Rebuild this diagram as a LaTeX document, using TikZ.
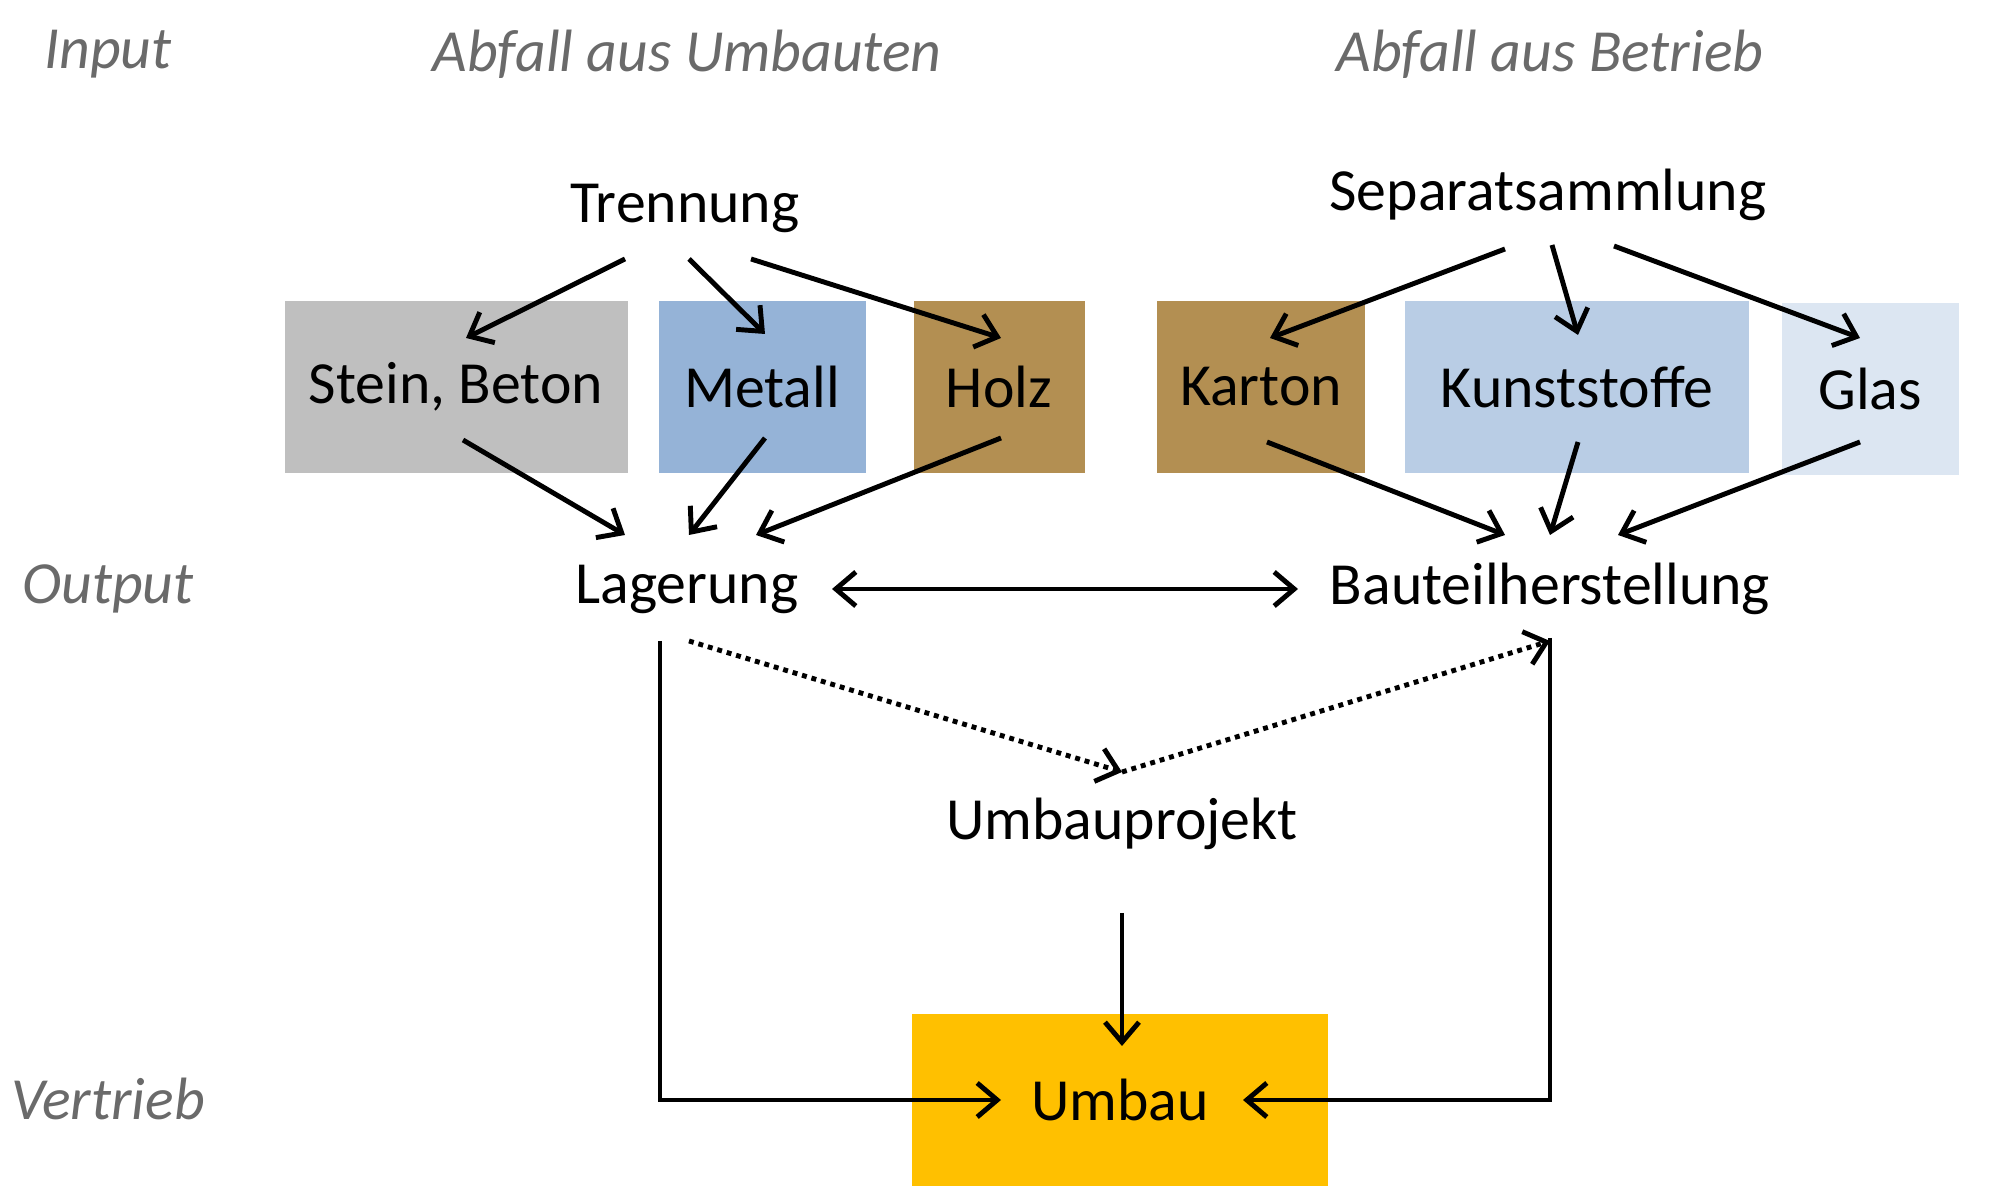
\documentclass[tikz,border=0pt]{standalone}
\usepackage{fontspec}
\setmainfont{Carlito}
\usetikzlibrary{arrows.meta}

% box colours
\definecolor{steingray}{HTML}{BFBFBF}
\definecolor{metallblue}{HTML}{95B3D7}
\definecolor{holzbrown}{HTML}{B38F52}
\definecolor{kunststoffblue}{HTML}{B9CDE5}
\definecolor{glasblue}{HTML}{DCE6F2}
\definecolor{umbaugold}{HTML}{FFC000}
\definecolor{levelgray}{HTML}{6A6A6A}

\tikzset{
  txt/.style={font=\fontsize{17}{20}\selectfont},
  level/.style={font=\fontsize{17}{20}\selectfont\itshape, text=levelgray},
  matbox/.style={txt, minimum height=1.72cm, inner sep=0pt},
  barb/.tip={Straight Barb[length=2mm,width=3.4mm]},
  arr/.style={-barb, line width=1.4pt},
  dblarr/.style={barb-barb, line width=1.4pt},
  dotarr/.style={arr, dash pattern=on 1.4pt off 1.4pt},
}

\begin{document}
\begin{tikzpicture}
\useasboundingbox (0,0) rectangle (20,11.92);

% level labels on the left and column headers
\node[level] (input) at (1.08, 11.38) {Input};
\node[level] (umbauten) at (6.87, 11.38) {Abfall aus Umbauten};
\node[level] (betrieb) at (15.50, 11.38) {Abfall aus Betrieb};
\node[level] (output) at (1.08, 6.03) {Output};
\node[level] (vertrieb) at (1.08, 0.93) {Vertrieb};

% collection
\node[txt] (trennung) at (6.85, 9.84) {Trennung};
\node[txt] (separat) at (15.48, 9.97) {Separatsammlung};

% material boxes
\node[matbox, fill=steingray, minimum width=3.43cm] (stein) at (4.56, 8.05) {Stein, Beton};
\node[matbox, fill=metallblue, minimum width=2.07cm] (metall) at (7.62, 8.05) {Metall};
\node[matbox, fill=holzbrown, minimum width=1.71cm] (holz) at (9.99, 8.05) {Holz};
\node[matbox, fill=holzbrown, minimum width=2.08cm] (karton) at (12.61, 8.05) {Karton};
\node[matbox, fill=kunststoffblue, minimum width=3.44cm] (kunst) at (15.77, 8.05) {Kunststoffe};
\node[matbox, fill=glasblue, minimum width=1.77cm] (glas) at (18.70, 8.03) {Glas};

% output and projects
\node[txt] (lager) at (6.87, 6.03) {Lagerung};
\node[txt] (bauteil) at (15.50, 6.03) {Bauteilherstellung};
\node[txt] (projekt) at (11.22, 3.68) {Umbauprojekt};
\node[matbox, fill=umbaugold, minimum width=4.16cm] (umbau) at (11.20, 0.92) {Umbau};
\coordinate (apex) at ([yshift=0.52cm]projekt.center);

% Trennung to materials
\draw[arr] ([shift={(-0.60,-0.51)}]trennung.center) -- ([shift={(0.10,0.49)}]stein.center);
\draw[arr] ([shift={(0.04,-0.51)}]trennung.center) -- ([shift={(0.03,0.53)}]metall.center);
\draw[arr] ([shift={(0.66,-0.51)}]trennung.center) -- ([shift={(0.02,0.49)}]holz.center);

% Separatsammlung to materials
\draw[arr] ([shift={(-0.43,-0.54)}]separat.center) -- ([shift={(0.09,0.49)}]karton.center);
\draw[arr] ([shift={(0.04,-0.50)}]separat.center) -- ([shift={(0.01,0.52)}]kunst.center);
\draw[arr] ([shift={(0.66,-0.51)}]separat.center) -- ([shift={(-0.10,0.51)}]glas.center);

% materials to Lagerung
\draw[arr] ([shift={(0.07,-0.53)}]stein.center) -- ([shift={(-0.62,0.54)}]lager.center);
\draw[arr] ([shift={(0.03,-0.51)}]metall.center) -- ([shift={(0.02,0.54)}]lager.center);
\draw[arr] ([shift={(0.02,-0.51)}]holz.center) -- ([shift={(0.69,0.54)}]lager.center);

% materials to Bauteilherstellung
\draw[arr] ([shift={(0.06,-0.55)}]karton.center) -- ([shift={(-0.45,0.54)}]bauteil.center);
\draw[arr] ([shift={(0.01,-0.55)}]kunst.center) -- ([shift={(0.00,0.54)}]bauteil.center);
\draw[arr] ([shift={(-0.10,-0.53)}]glas.center) -- ([shift={(0.68,0.54)}]bauteil.center);

% Lagerung and Bauteilherstellung
\draw[dblarr] ([xshift=1.45cm]lager.center) -- ([xshift=-2.52cm]bauteil.center);

% dotted links via the project
\draw[dotarr] ([shift={(0.02,-0.52)}]lager.center) -- (apex);
\draw[dotarr] (apex) -- ([shift={(0.00,-0.52)}]bauteil.center);

% into Umbau
\draw[arr] ([yshift=-0.89cm]projekt.center) -- ([shift={(0.02,0.54)}]umbau.center);
\draw[arr] ([shift={(-0.27,-0.52)}]lager.center) |- ([xshift=-1.19cm]umbau.center);
\draw[arr] ([shift={(0.00,-0.49)}]bauteil.center) |- ([xshift=1.23cm]umbau.center);
\end{tikzpicture}
\end{document}
